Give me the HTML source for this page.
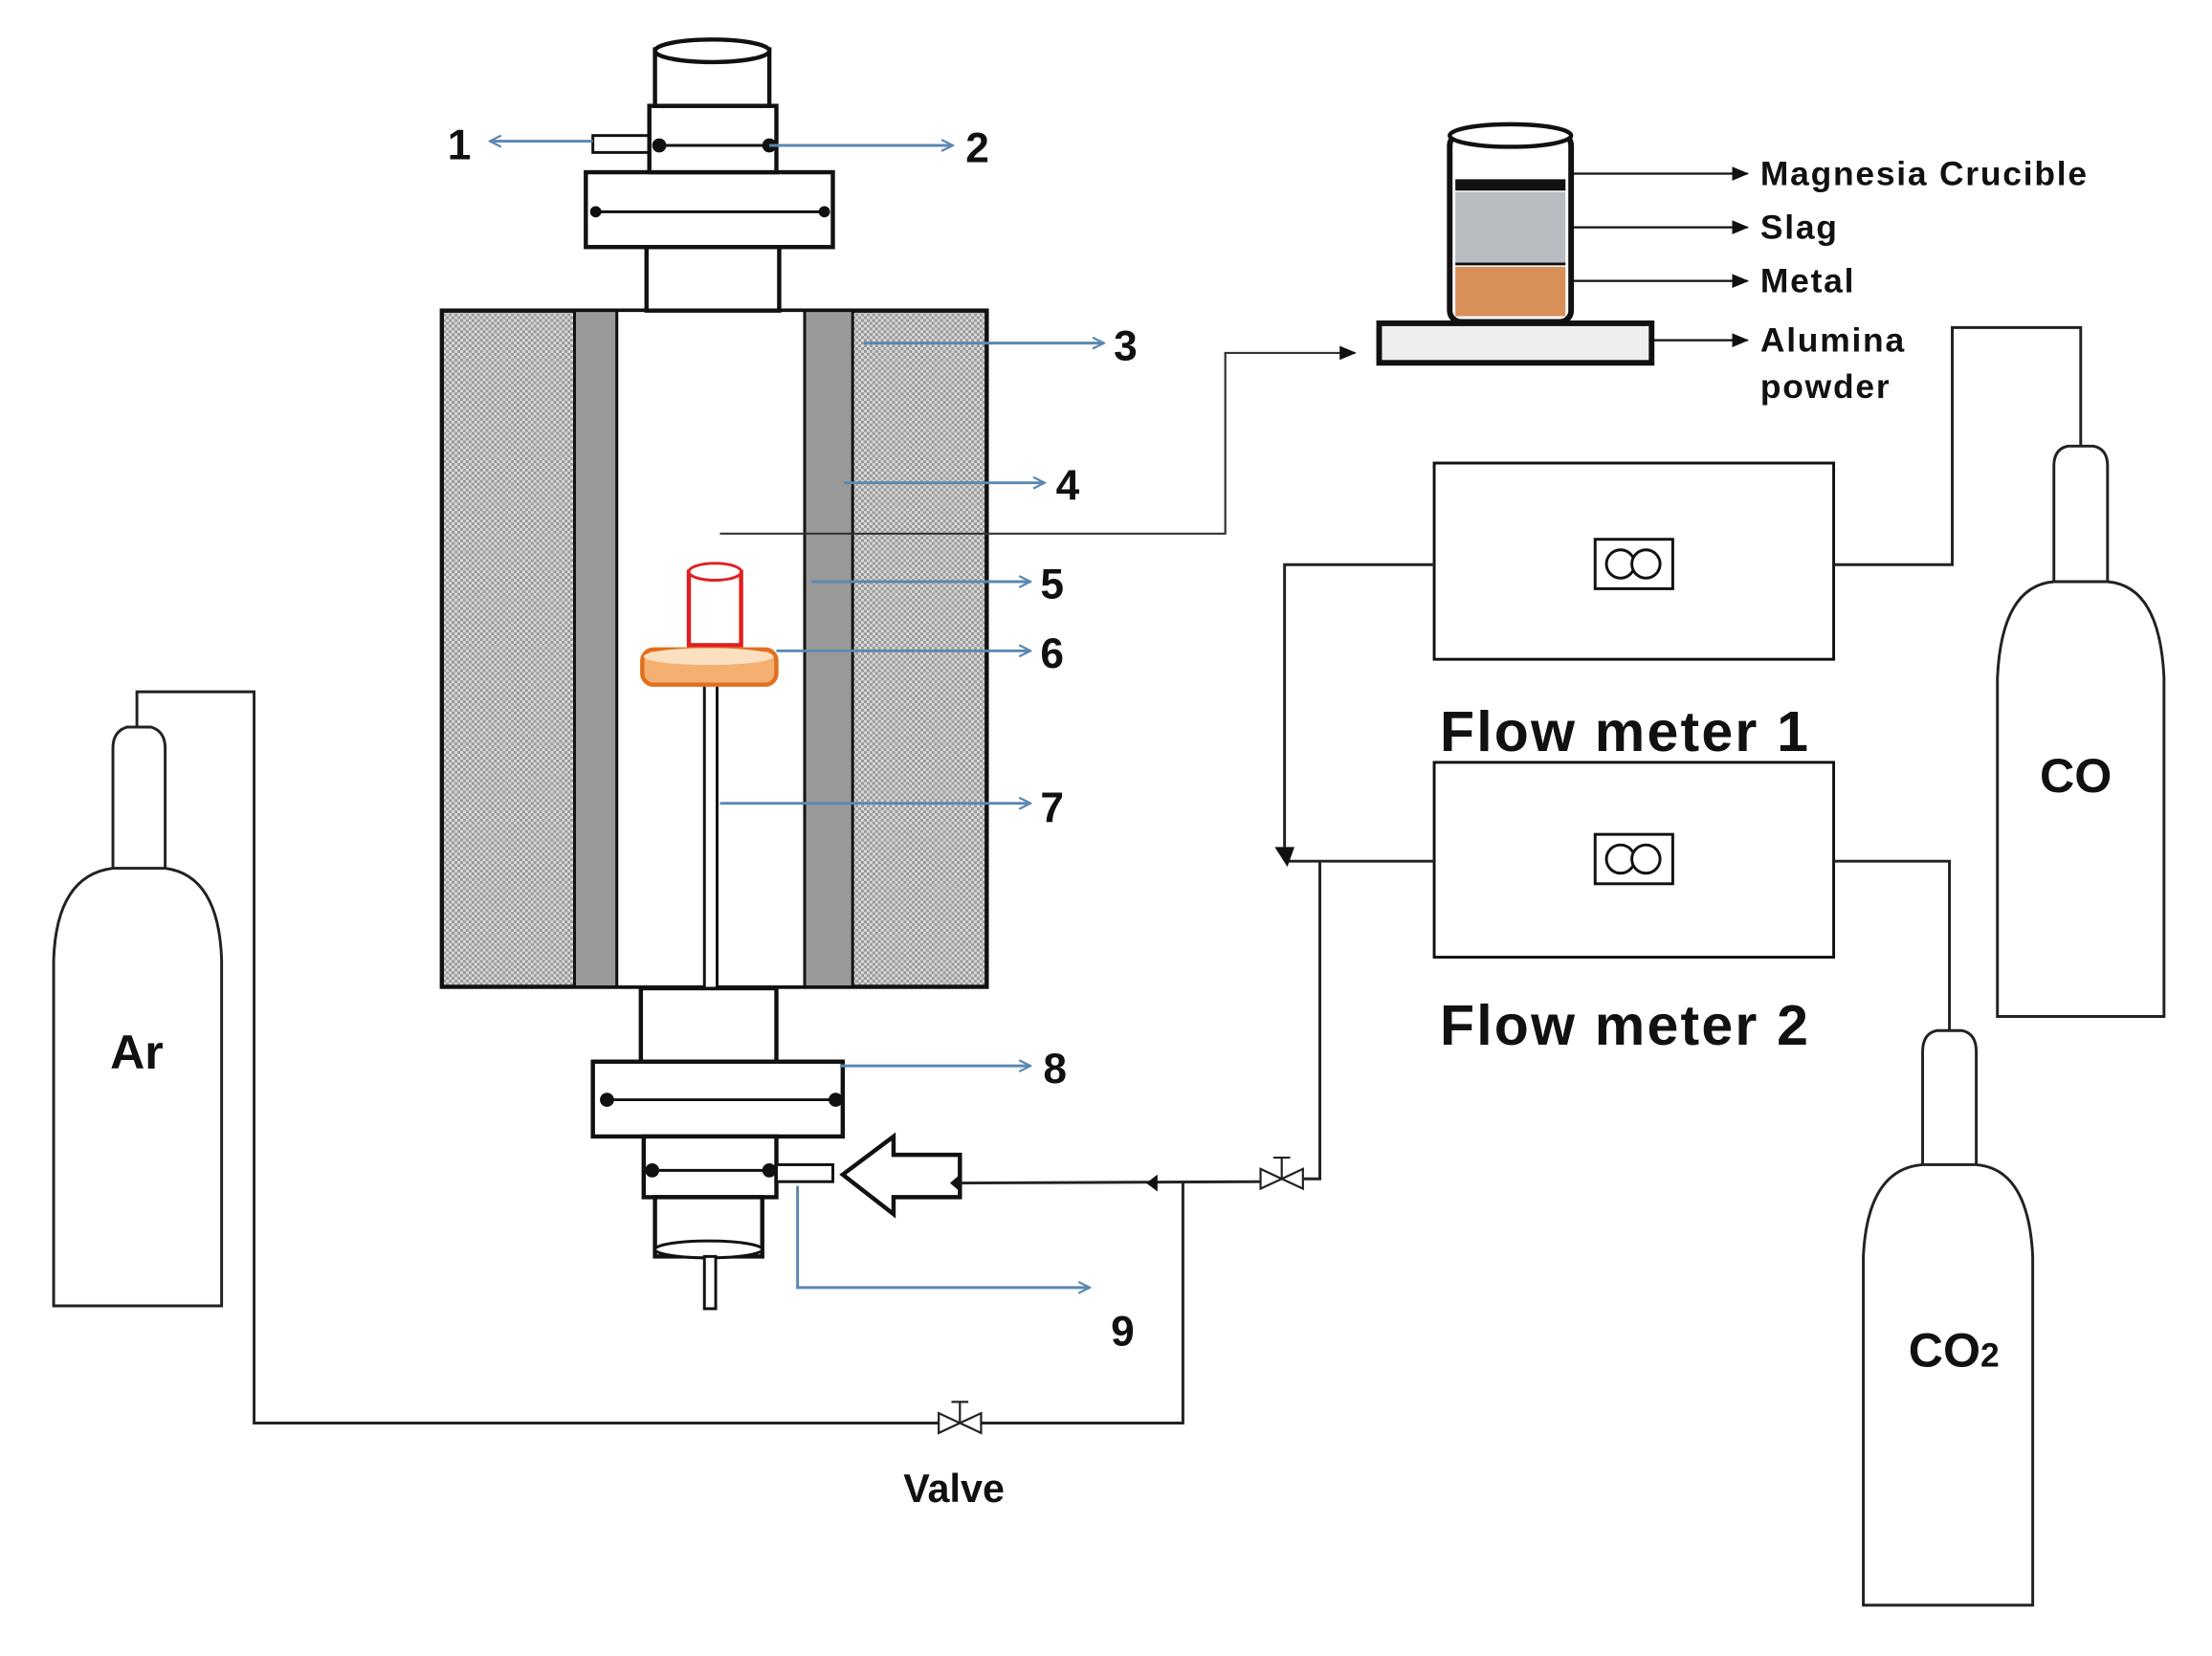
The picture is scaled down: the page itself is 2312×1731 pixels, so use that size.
<!DOCTYPE html>
<html><head><meta charset="utf-8"><style>
html,body{margin:0;padding:0;background:#fff}
svg{display:block}
text{font-family:"Liberation Sans",Arial,sans-serif;font-weight:bold;fill:#111}
</style></head><body>
<svg width="2312" height="1731" viewBox="0 0 1567 1173" preserveAspectRatio="none" xmlns="http://www.w3.org/2000/svg">
<defs>
<pattern id="hatch" width="4" height="4" patternUnits="userSpaceOnUse">
<rect width="4" height="4" fill="#d8d8d8"/><rect width="2" height="2" fill="#999"/><rect x="2" y="2" width="2" height="2" fill="#999"/>
</pattern>
<marker id="ba" markerWidth="10" markerHeight="10" refX="9" refY="5" orient="auto" markerUnits="userSpaceOnUse"><path d="M1,1 L9,5 L1,9" fill="none" stroke="#5a88b0" stroke-width="1.5"/></marker>
<marker id="ka" markerWidth="12" markerHeight="12" refX="11" refY="6" orient="auto" markerUnits="userSpaceOnUse"><path d="M0,1 L12,6 L0,11 Z" fill="#111"/></marker>
</defs>
<g stroke="#111" fill="none" stroke-width="3">
<rect x="313" y="220" width="386" height="479" fill="url(#hatch)"/>
<rect x="407" y="220" width="30" height="479" fill="#999" stroke-width="2"/>
<rect x="570" y="220" width="34" height="479" fill="#999" stroke-width="2"/>
<rect x="437" y="220" width="133" height="479" fill="#fff" stroke-width="2"/>
<rect x="458" y="175" width="94" height="45" fill="#fff"/>
<rect x="415" y="122" width="175" height="53" fill="#fff"/>
<line x1="422" y1="150" x2="584" y2="150" stroke-width="2"/>
<rect x="420" y="96" width="40" height="12" fill="#fff" stroke-width="2"/>
<rect x="460" y="75" width="90" height="47" fill="#fff"/>
<line x1="467" y1="103" x2="545" y2="103" stroke-width="2"/>
<rect x="464" y="35" width="81" height="40" fill="#fff"/>
<ellipse cx="504.5" cy="36" rx="40.5" ry="8" fill="#fff"/>
<rect x="454" y="700" width="96" height="52" fill="#fff"/>
<rect x="420" y="752" width="177" height="53" fill="#fff"/>
<line x1="428" y1="779" x2="592" y2="779" stroke-width="2"/>
<rect x="456" y="805" width="94" height="43" fill="#fff"/>
<line x1="462" y1="829" x2="545" y2="829" stroke-width="2"/>
<rect x="550" y="825" width="40" height="12" fill="#fff" stroke-width="2"/>
<rect x="464" y="848" width="76" height="42" fill="#fff"/>
<ellipse cx="502" cy="885" rx="38" ry="6" fill="#fff" stroke-width="2"/>
<rect x="499" y="890" width="8" height="37" fill="#fff" stroke-width="2"/>
<path d="M597,832 L633,805 L633,818 L680,818 L680,848 L633,848 L633,860 Z" fill="#fff"/>
<rect x="499" y="485" width="9" height="215" fill="#fff" stroke-width="2"/>
</g>
<g fill="#111">
<circle cx="467" cy="103" r="5"/><circle cx="545" cy="103" r="5"/>
<circle cx="422" cy="150" r="4"/><circle cx="584" cy="150" r="4"/>
<circle cx="430" cy="779" r="5"/><circle cx="592" cy="779" r="5"/>
<circle cx="462" cy="829" r="5"/><circle cx="545" cy="829" r="5"/>
</g>
<rect x="488" y="405" width="37" height="52" fill="#fff" stroke="#e02020" stroke-width="3"/>
<ellipse cx="506.5" cy="405" rx="18.5" ry="6" fill="#fff" stroke="#e02020" stroke-width="2"/>
<rect x="455" y="460" width="95" height="25" rx="8" fill="#f3b070" stroke="#e07020" stroke-width="3"/>
<ellipse cx="502" cy="465" rx="46" ry="6" fill="#fbe0c0"/>
<g stroke="#5a88b0" stroke-width="2" fill="none" marker-end="url(#ba)">
<line x1="420" y1="100" x2="347" y2="100"/>
<line x1="545" y1="103" x2="675" y2="103"/>
<line x1="612" y1="243" x2="782" y2="243"/>
<line x1="598" y1="342" x2="740" y2="342"/>
<line x1="575" y1="412" x2="730" y2="412"/>
<line x1="550" y1="461" x2="730" y2="461"/>
<line x1="510" y1="569" x2="730" y2="569"/>
<line x1="595" y1="755" x2="730" y2="755"/>
<polyline points="565,840 565,912 772,912"/>
</g>
<g font-size="30">
<text x="317" y="113">1</text><text x="684" y="115">2</text><text x="789" y="255">3</text>
<text x="748" y="354">4</text><text x="737" y="424">5</text><text x="737" y="473">6</text>
<text x="737" y="582">7</text><text x="739" y="767">8</text><text x="787" y="953">9</text>
</g>
<polyline points="510,378 868,378 868,250 960,250" fill="none" stroke="#333" stroke-width="1.5" marker-end="url(#ka)"/>
<rect x="977" y="229" width="193" height="28" fill="#eee" stroke="#111" stroke-width="4"/>
<rect x="1027" y="95" width="86" height="133" rx="8" fill="#fff" stroke="#111" stroke-width="4"/>
<ellipse cx="1070" cy="96" rx="43" ry="8" fill="#fff" stroke="#111" stroke-width="3"/>
<rect x="1031" y="136" width="78" height="50" fill="#b8bcc0"/>
<rect x="1031" y="189" width="78" height="35" fill="#d89058"/>
<line x1="1031" y1="131" x2="1109" y2="131" stroke="#111" stroke-width="8"/>
<line x1="1031" y1="187" x2="1109" y2="187" stroke="#111" stroke-width="2"/>
<g stroke="#111" stroke-width="1.5" marker-end="url(#ka)">
<line x1="1113" y1="123" x2="1238" y2="123"/>
<line x1="1113" y1="161" x2="1238" y2="161"/>
<line x1="1113" y1="199" x2="1238" y2="199"/>
<line x1="1170" y1="241" x2="1238" y2="241"/>
</g>
<g font-size="24" letter-spacing="1.2">
<text x="1247" y="131">Magnesia Crucible</text><text x="1247" y="169">Slag</text>
<text x="1247" y="207">Metal</text><text x="1247" y="249">Alumina</text><text x="1247" y="282">powder</text>
</g>
<g stroke="#111" stroke-width="2" fill="#fff">
<rect x="1016" y="328" width="283" height="139"/>
<rect x="1016" y="540" width="283" height="138"/>
<rect x="1130" y="382" width="55" height="35"/>
<rect x="1130" y="591" width="55" height="35"/>
<circle cx="1148" cy="399.5" r="10"/><circle cx="1166" cy="399.5" r="10"/>
<circle cx="1148" cy="608.5" r="10"/><circle cx="1166" cy="608.5" r="10"/>
</g>
<g font-size="40" letter-spacing="1.5"><text x="1020" y="532">Flow meter 1</text><text x="1020" y="740">Flow meter 2</text></g>
<g stroke="#222" stroke-width="2" fill="none">
<polyline points="1299,400 1383,400 1383,232 1474,232 1474,320"/>
<polyline points="1299,610 1381,610 1381,732"/>
<polyline points="1016,400 910,400 910,600"/>
<polyline points="1016,610 912,610"/>
<polyline points="935,610 935,835 923,835"/>
<polyline points="893,837 680,838"/>
<polyline points="838,838 838,1008 695,1008"/>
<polyline points="675,1008 180,1008 180,490 97,490 97,520"/>
</g>
<path d="M903,600 L917,600 L912,614 Z" fill="#111"/>
<path d="M820,832 L820,844 L812,838 Z" fill="#111"/>
<path d="M680,832 L680,844 L673,838 Z" fill="#111"/>
<g stroke="#222" stroke-width="1.5" fill="#fff">
<path d="M893,828 L893,842 L908,835 Z"/><path d="M923,828 L923,842 L908,835 Z"/>
<line x1="908" y1="835" x2="908" y2="820"/><line x1="902" y1="820" x2="914" y2="820"/>
<path d="M665,1001 L665,1015 L680,1008 Z"/><path d="M695,1001 L695,1015 L680,1008 Z"/>
<line x1="680" y1="1008" x2="680" y2="993"/><line x1="674" y1="993" x2="686" y2="993"/>
</g>
<text x="640" y="1064" font-size="28">Valve</text>
<g stroke="#222" stroke-width="2" fill="#fff">
<path d="M80,615 L80,530 Q80,518 90,515 L107,515 Q117,518 117,530 L117,615"/>
<path d="M38,925 L38,680 Q40,620 80,615 L117,615 Q155,620 157,680 L157,925 Z"/>
<path d="M1455,412 L1455,330 Q1455,318 1465,316 L1483,316 Q1493,318 1493,330 L1493,412"/>
<path d="M1415,720 L1415,480 Q1418,415 1455,412 L1493,412 Q1530,415 1533,480 L1533,720 Z"/>
<path d="M1362,825 L1362,745 Q1362,732 1372,730 L1390,730 Q1400,732 1400,745 L1400,825"/>
<path d="M1320,1137 L1320,890 Q1323,828 1362,825 L1400,825 Q1437,828 1440,890 L1440,1137 Z"/>
</g>
<g font-size="34">
<text x="78" y="757">Ar</text><text x="1445" y="561">CO</text>
<text x="1352" y="968">CO<tspan font-size="24">2</tspan></text>
</g>
</svg>
</body></html>
